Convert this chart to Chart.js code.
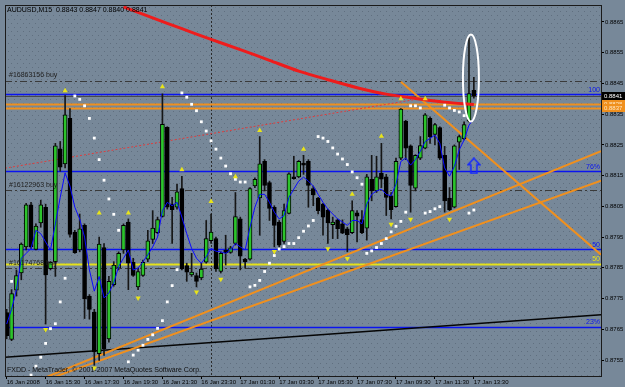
<!DOCTYPE html>
<html>
<head>
<meta charset="utf-8">
<script src="https://cdn.jsdelivr.net/npm/chart.js@4.4.1/dist/chart.umd.min.js"></script>
<style>
  html, body { margin: 0; padding: 0; background: #778899; }
  #caixa { width: 625px; height: 387px; }
</style>
</head>
<body>
<div id="caixa"><canvas id="grafico"></canvas></div>
<script>
// AUDUSD M15 — candles, médias, SAR, fractais e objetos desenhados

const simbolo = 'AUDUSD,M15';
const rotulosTempo = ['16 Jan 2008', '16 Jan 15:30', '16 Jan 17:30', '16 Jan 19:30', '16 Jan 21:30', '16 Jan 23:30',
  '17 Jan 01:30', '17 Jan 03:30', '17 Jan 05:30', '17 Jan 07:30', '17 Jan 09:30', '17 Jan 11:30', '17 Jan 13:30'];
const rotulosPreco = [0.8865, 0.8855, 0.8845, 0.8835, 0.8825, 0.8815, 0.8805, 0.8795, 0.8785, 0.8775, 0.8765, 0.8755];

// Candles (OHLC)
const abertura = [
  0.87704, 0.87617, 0.87777, 0.87833, 0.87918, 0.88055, 0.87910, 0.87996, 0.88047, 0.87847,
  0.87870, 0.88237, 0.88188, 0.88336, 0.87966, 0.87908, 0.87988, 0.87758, 0.87706, 0.87571,
  0.87916, 0.87619, 0.87795, 0.87849, 0.87908, 0.87999, 0.87868, 0.87788, 0.87825, 0.87878,
  0.87942, 0.87964, 0.88017, 0.88307, 0.88057, 0.88047, 0.88108, 0.87857, 0.87827, 0.87825,
  0.87817, 0.87868, 0.87938, 0.87945, 0.87838, 0.87908, 0.87900, 0.87929, 0.88009, 0.87878,
  0.87878, 0.88116, 0.88077, 0.88196, 0.88127, 0.88047, 0.87999, 0.87936, 0.88027, 0.88146,
  0.88146, 0.88191, 0.88196, 0.88108, 0.88077, 0.88057, 0.88038, 0.87990, 0.88006, 0.87993,
  0.87977, 0.87964, 0.88029, 0.88007, 0.87979, 0.88138, 0.88100, 0.88157, 0.88146, 0.88084,
  0.88049, 0.88207, 0.88327, 0.88247, 0.88109, 0.88207, 0.88239, 0.88336, 0.88284, 0.88306,
  0.88216, 0.88077, 0.88047, 0.88259, 0.88269, 0.88327, 0.88427];
const maxima = [
  0.87715, 0.87779, 0.87843, 0.87931, 0.88060, 0.88063, 0.87993, 0.88070, 0.88057, 0.87870,
  0.88255, 0.88261, 0.88410, 0.88368, 0.87972, 0.88025, 0.87993, 0.87763, 0.87715, 0.87950,
  0.87929, 0.87822, 0.87870, 0.87902, 0.87993, 0.88009, 0.87881, 0.87849, 0.87875, 0.87972,
  0.88036, 0.88015, 0.88416, 0.88309, 0.88079, 0.88122, 0.88148, 0.87865, 0.87897, 0.87833,
  0.87865, 0.88004, 0.88025, 0.87950, 0.87902, 0.87956, 0.87920, 0.88095, 0.88015, 0.87881,
  0.88111, 0.88143, 0.88277, 0.88202, 0.88132, 0.88052, 0.88004, 0.88057, 0.88159, 0.88213,
  0.88199, 0.88216, 0.88202, 0.88116, 0.88079, 0.88060, 0.88041, 0.88015, 0.88009, 0.88006,
  0.87982, 0.88068, 0.88036, 0.88036, 0.88154, 0.88216, 0.88213, 0.88255, 0.88154, 0.88095,
  0.88207, 0.88368, 0.88330, 0.88250, 0.88218, 0.88277, 0.88352, 0.88341, 0.88320, 0.88309,
  0.88245, 0.88111, 0.88250, 0.88282, 0.88325, 0.88598, 0.88470];
const minima = [
  0.87619, 0.87613, 0.87758, 0.87811, 0.87908, 0.87913, 0.87908, 0.87982, 0.87667, 0.87843,
  0.87822, 0.88164, 0.88175, 0.87950, 0.87897, 0.87902, 0.87685, 0.87683, 0.87533, 0.87549,
  0.87565, 0.87608, 0.87790, 0.87843, 0.87897, 0.87779, 0.87822, 0.87779, 0.87822, 0.87870,
  0.87929, 0.87961, 0.88015, 0.88041, 0.87929, 0.88041, 0.87843, 0.87806, 0.87822, 0.87788,
  0.87811, 0.87865, 0.87929, 0.87838, 0.87833, 0.87859, 0.87897, 0.87924, 0.87843, 0.87849,
  0.87875, 0.88111, 0.87956, 0.88100, 0.88004, 0.87918, 0.87918, 0.87929, 0.88025, 0.88138,
  0.88143, 0.88154, 0.88047, 0.88052, 0.88025, 0.87956, 0.87929, 0.87945, 0.87945, 0.87961,
  0.87902, 0.87961, 0.87934, 0.87961, 0.87940, 0.88068, 0.88095, 0.88111, 0.88020, 0.88009,
  0.88047, 0.88202, 0.88202, 0.88031, 0.88100, 0.88202, 0.88237, 0.88255, 0.88250, 0.88202,
  0.88031, 0.88036, 0.88045, 0.88170, 0.88266, 0.88325, 0.88402];
const fechamento = [
  0.87629, 0.87766, 0.87825, 0.87927, 0.88055, 0.87918, 0.87986, 0.88055, 0.87827, 0.87868,
  0.88247, 0.88177, 0.88348, 0.87959, 0.87899, 0.87977, 0.87749, 0.87715, 0.87576, 0.87927,
  0.87587, 0.87806, 0.87859, 0.87897, 0.87988, 0.87865, 0.87825, 0.87838, 0.87868, 0.87938,
  0.87979, 0.88007, 0.88317, 0.88047, 0.88039, 0.88097, 0.87846, 0.87836, 0.87836, 0.87806,
  0.87846, 0.87945, 0.87966, 0.87846, 0.87897, 0.87899, 0.87915, 0.88017, 0.87888, 0.87869,
  0.88108, 0.88138, 0.88188, 0.88118, 0.88043, 0.87988, 0.87924, 0.88036, 0.88156, 0.88140,
  0.88196, 0.88184, 0.88118, 0.88087, 0.88036, 0.88015, 0.87996, 0.87999, 0.87977, 0.87963,
  0.87958, 0.88036, 0.88018, 0.87964, 0.88146, 0.88100, 0.88146, 0.88138, 0.88079, 0.88039,
  0.88196, 0.88366, 0.88239, 0.88118, 0.88216, 0.88248, 0.88348, 0.88277, 0.88316, 0.88207,
  0.88068, 0.88039, 0.88247, 0.88277, 0.88316, 0.88417, 0.88408];

// Média rápida (azul)
const mediaRapida = [
  0.87667, 0.87715, 0.87779, 0.87881, 0.87897, 0.87913, 0.87972, 0.87961, 0.87934, 0.87908,
  0.87993, 0.88079, 0.88159, 0.88116, 0.88047, 0.88009, 0.87950, 0.87843, 0.87774, 0.87822,
  0.87752, 0.87768, 0.87801, 0.87854, 0.87881, 0.87908, 0.87843, 0.87849, 0.87870, 0.87892,
  0.87918, 0.87950, 0.88036, 0.88063, 0.88052, 0.88063, 0.88015, 0.87961, 0.87913, 0.87881,
  0.87865, 0.87886, 0.87913, 0.87904, 0.87902, 0.87897, 0.87908, 0.87929, 0.87918, 0.87908,
  0.87982, 0.88047, 0.88089, 0.88089, 0.88063, 0.88031, 0.88009, 0.88020, 0.88079, 0.88106,
  0.88132, 0.88145, 0.88132, 0.88116, 0.88089, 0.88063, 0.88041, 0.88025, 0.88009, 0.87999,
  0.87988, 0.88004, 0.88004, 0.87993, 0.88057, 0.88089, 0.88100, 0.88106, 0.88089, 0.88084,
  0.88122, 0.88196, 0.88207, 0.88184, 0.88202, 0.88229, 0.88261, 0.88271, 0.88282, 0.88255,
  0.88175, 0.88148, 0.88180, 0.88234, 0.88266, 0.88314, 0.88336];

// Média lenta (vermelha) — lida a cada 6 barras
const barrasMediaLenta = [24, 30, 36, 42, 48, 54, 60, 66, 72, 78, 84, 90, 96];
const mediaLenta = [0.88699, 0.88663, 0.88628, 0.88593, 0.88560, 0.88525, 0.88490, 0.88462, 0.88436, 0.88415, 0.88401, 0.88389, 0.88381];

// Parabolic SAR
const sar = [
  null, 0.87806, null, null, null, 0.87501, 0.87530, 0.87559, 0.87604, 0.87652,
  0.87668, 0.87739, 0.87816, null, 0.88409, 0.88398, 0.88377, 0.88336, 0.88272, 0.88202,
  0.88135, 0.88074, 0.88024, 0.87972, null, 0.87544, 0.87566, 0.87582, 0.87598, 0.87617,
  0.87632, 0.87653, 0.87678, 0.87739, 0.87792, 0.87844, 0.88419, 0.88405, 0.88382, 0.88361,
  0.88325, 0.88295, 0.88263, 0.88236, 0.88207, 0.88181, 0.88156, 0.88138, 0.88129, 0.88129,
  0.87788, 0.87793, 0.87809, 0.87838, 0.87865, 0.87890, 0.87911, 0.87919, 0.87929, 0.87929,
  0.87948, 0.87969, 0.87986, 0.88004, 0.88277, 0.88272, 0.88261, 0.88240, 0.88220, 0.88204,
  0.88186, 0.88162, 0.88143, 0.88122, 0.87897, 0.87905, 0.87916, 0.87929, 0.87945, 0.87967,
  0.87985, 0.88001, 0.88031, 0.88377, 0.88377, 0.88370, 0.88028, 0.88033, 0.88042, 0.88049,
  0.88379, 0.88370, 0.88362, 0.88357, 0.88345, 0.88028, 0.88038];

// Fractais
const barrasFractalAlta = [12, 19, 25, 32, 36, 42, 47, 52, 61, 71, 77, 81, 86];
const fractalAlta = [0.88426, 0.88028, 0.88028, 0.88439, 0.88169, 0.88066, 0.88146, 0.88297, 0.88236, 0.88089, 0.88278, 0.88400, 0.88400];
const barrasFractalBaixa = [8, 18, 27, 39, 44, 55, 66, 70, 79, 83, 91];
const fractalBaixa = [0.87649, 0.87524, 0.87752, 0.87771, 0.87813, 0.87903, 0.87912, 0.87880, 0.87992, 0.88008, 0.88008];

// Objetos: níveis, ordens, linhas de tendência
const niveisFibo = [0.88416, 0.88166, 0.87912, 0.87659];
const rotulosFibo = ['100', '76%', '50', '23%'];
const nivelAmarelo = 0.87864;
const niveisLaranja = [0.88384, 0.88371];
const precosOrdens = [0.88458, 0.88102, 0.87848];
const rotulosOrdens = ['#16863156 buy', '#16122963 buy', '#16174768 buy'];
const tendenciaPreta = [[0, 0.87559], [96, 0.87668]];
const tendenciaLaranjaA = [[20, 0.87571], [96, 0.88061]];
const tendenciaLaranjaB = [[20, 0.87553], [96, 0.87985]];
const tendenciaLaranjaC = [[81, 0.88455], [96, 0.88250]];
const tendenciaVermelha = [[0, 0.88175], [86, 0.88403]];
const barraSeparador = 42;
const setaSinal = [96, 0.88182];
const elipse = { barra: 95.4, topo: 0.88609, base: 0.88326 };

const ultimo = abertura.length - 1;
const indices = abertura.map((_, i) => i);
const FONTE = 'Liberation Sans';

Chart.defaults.font.family = FONTE;

// Seta azul vazada
const setaAzul = document.createElement('canvas');
setaAzul.width = 14; setaAzul.height = 17;
(() => {
  const c = setaAzul.getContext('2d');
  c.strokeStyle = '#1428ff'; c.lineWidth = 1.5;
  c.beginPath();
  c.moveTo(7, 1); c.lineTo(13, 7.5); c.lineTo(10, 7.5); c.lineTo(10, 16); c.lineTo(4, 16); c.lineTo(4, 7.5); c.lineTo(1, 7.5);
  c.closePath(); c.stroke();
})();

// Plugin: fundo, objetos e textos
const pluginObjetos = {
  id: 'objetos',
  beforeDatasetsDraw(chart) {
    const { ctx, chartArea: a, scales: { x, y } } = chart;
    ctx.save();
    ctx.beginPath(); ctx.rect(a.left, a.top, a.right - a.left, a.bottom - a.top); ctx.clip();

    // textura pontilhada do fundo
    ctx.fillStyle = 'rgba(55,65,80,0.35)';
    for (let yy = a.top + 2, l = 0; yy < a.bottom; yy += 4, l++) {
      for (let xx = a.left + (l % 2) * 3; xx < a.right; xx += 6) ctx.fillRect(xx, yy, 1, 1);
    }

    const horizontal = (preco, cor, largura, traco) => {
      const py = Math.round(y.getPixelForValue(preco)) + 0.5;
      ctx.strokeStyle = cor; ctx.lineWidth = largura; ctx.setLineDash(traco || []);
      ctx.beginPath(); ctx.moveTo(a.left, py); ctx.lineTo(a.right, py); ctx.stroke();
    };
    const tendencia = (pts, cor, largura, esquerda, direita, traco) => {
      const x0 = x.getPixelForValue(pts[0][0]), y0 = y.getPixelForValue(pts[0][1]);
      const x1 = x.getPixelForValue(pts[1][0]), y1 = y.getPixelForValue(pts[1][1]);
      const m = (y1 - y0) / (x1 - x0);
      const xa = esquerda ? a.left : x0, xb = direita ? a.right : x1;
      ctx.strokeStyle = cor; ctx.lineWidth = largura; ctx.setLineDash(traco || []);
      ctx.beginPath(); ctx.moveTo(xa, y0 + m * (xa - x0)); ctx.lineTo(xb, y0 + m * (xb - x0)); ctx.stroke();
    };

    // separador de dia
    const sx = Math.round(x.getPixelForValue(barraSeparador)) + 0.5;
    ctx.strokeStyle = '#2a2a2a'; ctx.lineWidth = 1; ctx.setLineDash([2, 2]);
    ctx.beginPath(); ctx.moveTo(sx, a.top); ctx.lineTo(sx, a.bottom); ctx.stroke();

    precosOrdens.forEach(p => horizontal(p, '#3a3a3a', 1, [7, 3, 2, 3]));
    horizontal(fechamento[ultimo], '#4a4a4a', 1);
    niveisFibo.forEach(p => horizontal(p, '#0a14f0', 1.5));
    horizontal(nivelAmarelo, '#e6e21a', 2);
    niveisLaranja.forEach(p => horizontal(p, '#f0901e', 2));

    tendencia(tendenciaVermelha, '#e03c3c', 1, true, false, [2, 2]);
    tendencia(tendenciaPreta, '#050505', 1.5, true, true);
    tendencia(tendenciaLaranjaA, '#f0901e', 2, true, true);
    tendencia(tendenciaLaranjaB, '#f0901e', 2, true, true);
    tendencia(tendenciaLaranjaC, '#f0901e', 2, false, true);
    ctx.restore();
  },
  afterDatasetsDraw(chart) {
    const { ctx, chartArea: a, scales: { x, y } } = chart;
    ctx.save();
    ctx.beginPath(); ctx.rect(a.left, a.top, a.right - a.left, a.bottom - a.top); ctx.clip();

    // elipse branca em volta do último pico
    const yt = y.getPixelForValue(elipse.topo), yb = y.getPixelForValue(elipse.base);
    ctx.strokeStyle = '#ffffff'; ctx.lineWidth = 2;
    ctx.beginPath(); ctx.ellipse(x.getPixelForValue(elipse.barra), (yt + yb) / 2, 8, (yb - yt) / 2, 0, 0, Math.PI * 2); ctx.stroke();

    ctx.font = '7px ' + FONTE;
    ctx.textBaseline = 'bottom';
    ctx.textAlign = 'right';
    niveisFibo.forEach((p, k) => {
      ctx.fillStyle = '#0a14f0';
      ctx.fillText(rotulosFibo[k], a.right - 1, y.getPixelForValue(p) - 0.5);
    });
    ctx.fillStyle = '#e6e21a';
    ctx.fillText('50', a.right - 1, y.getPixelForValue(nivelAmarelo) - 1);

    ctx.textAlign = 'left';
    ctx.fillStyle = '#222';
    precosOrdens.forEach((p, k) => ctx.fillText(rotulosOrdens[k], a.left + 4, y.getPixelForValue(p) - 2));

    ctx.fillStyle = '#000';
    ctx.textBaseline = 'top';
    ctx.fillText(simbolo + '  ' + [abertura[ultimo], maxima[ultimo], minima[ultimo], fechamento[ultimo]].map(v => v.toFixed(4)).join(' '), a.left + 2, a.top + 2);
    ctx.textBaseline = 'bottom';
    ctx.fillStyle = '#111';
    ctx.fillText('FXDD - MetaTrader, © 2001-2007 MetaQuotes Software Corp.', a.left + 2, a.bottom - 2);
    ctx.restore();

    // moldura
    ctx.save();
    ctx.strokeStyle = '#1a1a1a'; ctx.lineWidth = 1;
    ctx.strokeRect(a.left + 0.5, a.top + 0.5, a.right - a.left, a.bottom - a.top);
    ctx.restore();
  },
  afterDraw(chart) {
    const { ctx, chartArea: a, scales: { y } } = chart;
    ctx.save();
    ctx.font = '6px ' + FONTE;
    ctx.textBaseline = 'middle';
    ctx.textAlign = 'left';
    const caixa = (preco, fundo, cor) => {
      const py = Math.round(y.getPixelForValue(preco));
      ctx.fillStyle = fundo; ctx.fillRect(a.right + 1, py - 4, 24, 8);
      ctx.fillStyle = cor; ctx.fillText(preco.toFixed(4), a.right + 3, py);
    };
    niveisLaranja.forEach(p => caixa(p, '#f0901e', '#ffe6c0'));
    caixa(fechamento[ultimo], '#000', '#fff');
    ctx.restore();
  }
};

// Gráfico
const contexto = document.getElementById('grafico').getContext('2d');
const grafico = new Chart(contexto, {
  type: 'bar',
  data: { datasets: [
    {
      label: 'Pavio',
      data: indices.map(i => ({ x: i, y: [minima[i], maxima[i]] })),
      backgroundColor: '#161616',
      barThickness: 1,
      grouped: false,
      order: 6
    },
    {
      label: 'Corpo',
      data: indices.map(i => ({ x: i, y: [abertura[i], fechamento[i]] })),
      backgroundColor: c => fechamento[c.dataIndex] >= abertura[c.dataIndex] ? '#2cc42c' : '#000000',
      borderColor: '#000',
      borderWidth: 1,
      borderSkipped: false,
      barThickness: 4,
      grouped: false,
      order: 5
    },
    {
      type: 'line',
      label: 'MM lenta',
      data: barrasMediaLenta.map((b, k) => ({ x: b, y: mediaLenta[k] })),
      borderColor: '#ee1c1c',
      borderWidth: 3,
      pointRadius: 0,
      tension: 0.3,
      order: 4
    },
    {
      type: 'line',
      label: 'MM rápida',
      data: indices.map(i => ({ x: i, y: mediaRapida[i] })),
      borderColor: '#0a0aff',
      borderWidth: 1,
      pointRadius: 0,
      order: 3
    },
    {
      type: 'line',
      label: 'SAR',
      data: indices.filter(i => sar[i] !== null).map(i => ({ x: i, y: sar[i] })),
      showLine: false,
      pointStyle: 'rect',
      pointRadius: 2,
      backgroundColor: '#ffffff',
      borderWidth: 0,
      order: 2
    },
    {
      type: 'line',
      label: 'Fractal alta',
      data: barrasFractalAlta.map((b, k) => ({ x: b, y: fractalAlta[k] })),
      showLine: false,
      pointStyle: 'triangle',
      pointRadius: 3,
      backgroundColor: '#e8e41a',
      borderColor: '#e8e41a',
      borderWidth: 0,
      order: 1
    },
    {
      type: 'line',
      label: 'Fractal baixa',
      data: barrasFractalBaixa.map((b, k) => ({ x: b, y: fractalBaixa[k] })),
      showLine: false,
      pointStyle: 'triangle',
      rotation: 180,
      pointRadius: 3,
      backgroundColor: '#e8e41a',
      borderColor: '#e8e41a',
      borderWidth: 0,
      order: 1
    },
    {
      type: 'line',
      label: 'Sinal',
      data: [{ x: setaSinal[0], y: setaSinal[1] }],
      showLine: false,
      pointStyle: setaAzul,
      order: 0
    }
  ]},
  options: {
    responsive: true,
    maintainAspectRatio: false,
    animation: false,
    events: [],
    layout: { padding: { left: 1, top: 0, right: 0, bottom: 0 } },
    plugins: { legend: { display: false }, tooltip: { enabled: false } },
    scales: {
      x: {
        type: 'linear', min: -0.35, max: 122.13, offset: false,
        afterBuildTicks: eixo => { eixo.ticks = rotulosTempo.map((_, k) => ({ value: k * 8 })); },
        afterFit: eixo => { eixo.height = 11; },
        ticks: { color: '#000', font: { size: 6 }, align: 'start', maxRotation: 0, autoSkip: false, padding: 0,
                 callback: (valor, indice) => rotulosTempo[indice] },
        grid: { drawOnChartArea: false, color: '#000', tickLength: 3, offset: false },
        border: { color: '#1a1a1a' }
      },
      y: {
        type: 'linear', position: 'right', min: 0.87498, max: 0.88705,
        afterBuildTicks: eixo => { eixo.ticks = rotulosPreco.map(v => ({ value: v })); },
        afterFit: eixo => { eixo.width = 24; },
        ticks: { color: '#000', font: { size: 6 }, padding: 1, autoSkip: false, callback: valor => valor.toFixed(4) },
        grid: { drawOnChartArea: false, color: '#000', tickLength: 3 },
        border: { color: '#1a1a1a' }
      }
    }
  },
  plugins: [pluginObjetos]
});
</script>
</body>
</html>
